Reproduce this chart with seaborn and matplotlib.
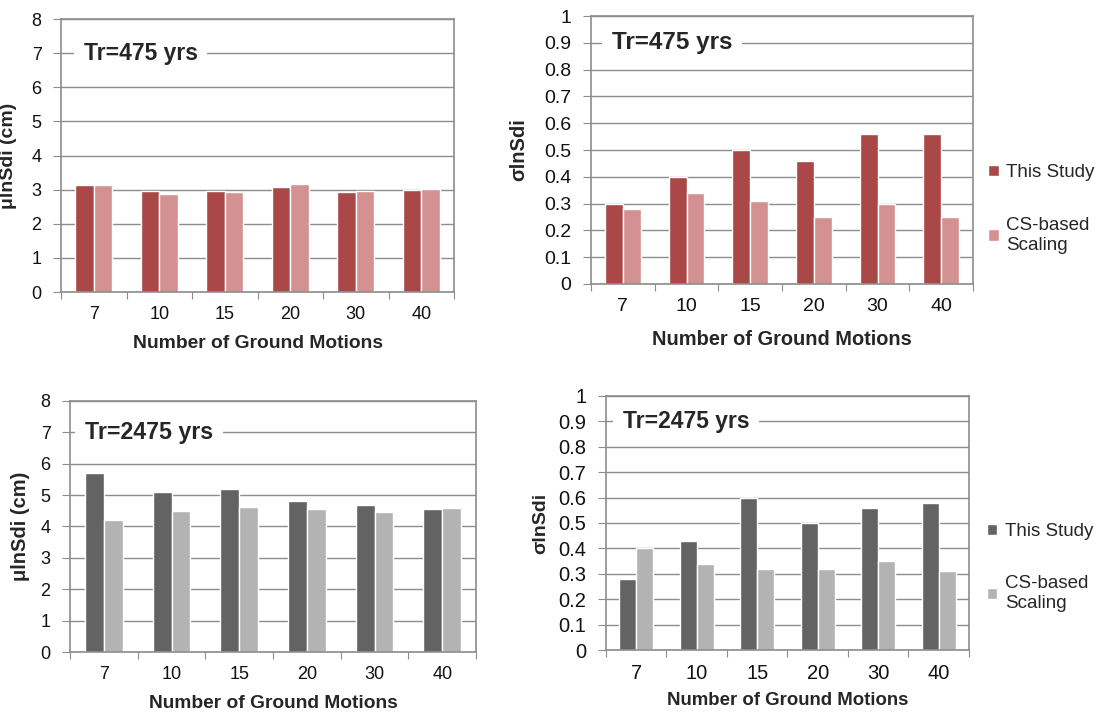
import pandas as pd
import numpy as np
import seaborn as sns
import matplotlib.pyplot as plt
from matplotlib.ticker import FuncFormatter

sns.set_style("white")
plt.rcParams['font.family'] = ['Liberation Sans', 'DejaVu Sans']

n_gm = ["7", "10", "15", "20", "30", "40"]
methods = ["This Study", "CS-based\nScaling"]

# Tr = 475 yrs
mu_475_study = [3.15, 2.95, 2.97, 3.07, 2.92, 3.00]
mu_475_cs = [3.15, 2.88, 2.92, 3.16, 2.95, 3.02]
sig_475_study = [0.30, 0.40, 0.50, 0.46, 0.56, 0.56]
sig_475_cs = [0.28, 0.34, 0.31, 0.25, 0.30, 0.25]

# Tr = 2475 yrs
mu_2475_study = [5.70, 5.10, 5.20, 4.80, 4.67, 4.55]
mu_2475_cs = [4.20, 4.48, 4.63, 4.56, 4.45, 4.58]
sig_2475_study = [0.28, 0.43, 0.60, 0.50, 0.56, 0.58]
sig_2475_cs = [0.40, 0.34, 0.32, 0.32, 0.35, 0.31]

reds = ["#a94847", "#d39291"]
grays = ["#636363", "#b3b3b3"]
grid_c = "#8c8c8c"


def make_df(a, b):
    return pd.DataFrame({
        "n": n_gm * 2,
        "val": a + b,
        "method": [methods[0]] * len(n_gm) + [methods[1]] * len(n_gm),
    })


def draw(ax, df, pal, ymax, ystep, ylabel, title, title_x, title_y,
         ylab_x, xlab_y, legend, fs):
    tick_fs, xlab_fs, ylab_fs, title_fs = fs
    sns.barplot(data=df, x="n", y="val", hue="method", order=n_gm,
                hue_order=methods, palette=pal, width=0.56, errorbar=None,
                edgecolor="white", linewidth=1, saturation=1,
                legend=legend, ax=ax)
    ax.set_axisbelow(True)
    ax.set_ylim(0, ymax)
    ax.set_xlim(-0.5, len(n_gm) - 0.5)
    ax.set_yticks(np.arange(0, ymax + ystep / 2, ystep))
    ax.yaxis.set_major_formatter(FuncFormatter(lambda v, p: "%g" % round(v, 2)))
    ax.yaxis.grid(True, color=grid_c, linewidth=1)
    ax.xaxis.grid(False)
    # ticks at category boundaries, labels at centres
    ax.set_xticks(np.arange(-0.5, len(n_gm), 1))
    ax.set_xticklabels([])
    ax.set_xticks(np.arange(len(n_gm)), minor=True)
    ax.set_xticklabels(n_gm, minor=True)
    ax.tick_params(axis="x", which="major", length=5, color=grid_c, direction="out", bottom=True)
    ax.tick_params(axis="x", which="minor", length=0, labelsize=tick_fs, pad=10, labelcolor="#111")
    ax.tick_params(axis="y", length=6, color=grid_c, direction="out", left=True,
                   labelsize=tick_fs, labelcolor="#111", pad=8)
    for s in ax.spines.values():
        s.set_color(grid_c)
        s.set_linewidth(1.2)
    ax.set_xlabel("Number of Ground Motions", fontsize=xlab_fs, fontweight="bold")
    ax.set_ylabel(ylabel, fontsize=ylab_fs, fontweight="bold")
    ax.xaxis.set_label_coords(0.5, xlab_y)
    ax.yaxis.set_label_coords(ylab_x, 0.5)
    ax.xaxis.label.set_va("top")
    ax.text(title_x, title_y, title, transform=ax.transAxes,
            fontsize=title_fs, fontweight="bold", va="center", ha="left",
            bbox=dict(facecolor="white", edgecolor="none", pad=7))


fig = plt.figure(figsize=(11.06, 7.15), dpi=100)
ax1 = fig.add_axes([0.0552, 0.5916, 0.3553, 0.3818])
ax2 = fig.add_axes([0.5344, 0.6028, 0.3454, 0.3748])
ax3 = fig.add_axes([0.0633, 0.0881, 0.3671, 0.3511])
ax4 = fig.add_axes([0.5479, 0.0909, 0.3282, 0.3553])

draw(ax1, make_df(mu_475_study, mu_475_cs), reds, 8, 1, "μlnSdi (cm)",
     "Tr=475 yrs", 0.058, 7 / 8, -0.112, -0.157, False, (13, 13.9, 14, 16.5))
draw(ax2, make_df(sig_475_study, sig_475_cs), reds, 1, 0.1, "σlnSdi",
     "Tr=475 yrs", 0.055, 0.9, -0.165, -0.172, True, (14, 14.4, 14.5, 17.5))
draw(ax3, make_df(mu_2475_study, mu_2475_cs), grays, 8, 1, "μlnSdi (cm)",
     "Tr=2475 yrs", 0.037, 7 / 8, -0.0985, -0.171, False, (13, 13.8, 14.5, 16.7))
draw(ax4, make_df(sig_2475_study, sig_2475_cs), grays, 1, 0.1, "σlnSdi",
     "Tr=2475 yrs", 0.047, 0.9, -0.157, -0.165, True, (14.5, 13.4, 14, 16.5))

for ax, bx, by, lfs in [(ax2, 1.04, 0.28, 13.5), (ax4, 1.05, 0.325, 13.5)]:
    sns.move_legend(ax, "center left", bbox_to_anchor=(bx, by), frameon=False,
                    title=None, fontsize=lfs, handlelength=0.55, handleheight=0.55,
                    handletextpad=0.4, labelspacing=1.9, borderpad=0,
                    borderaxespad=0)

fig.savefig("out.png", dpi=100)
